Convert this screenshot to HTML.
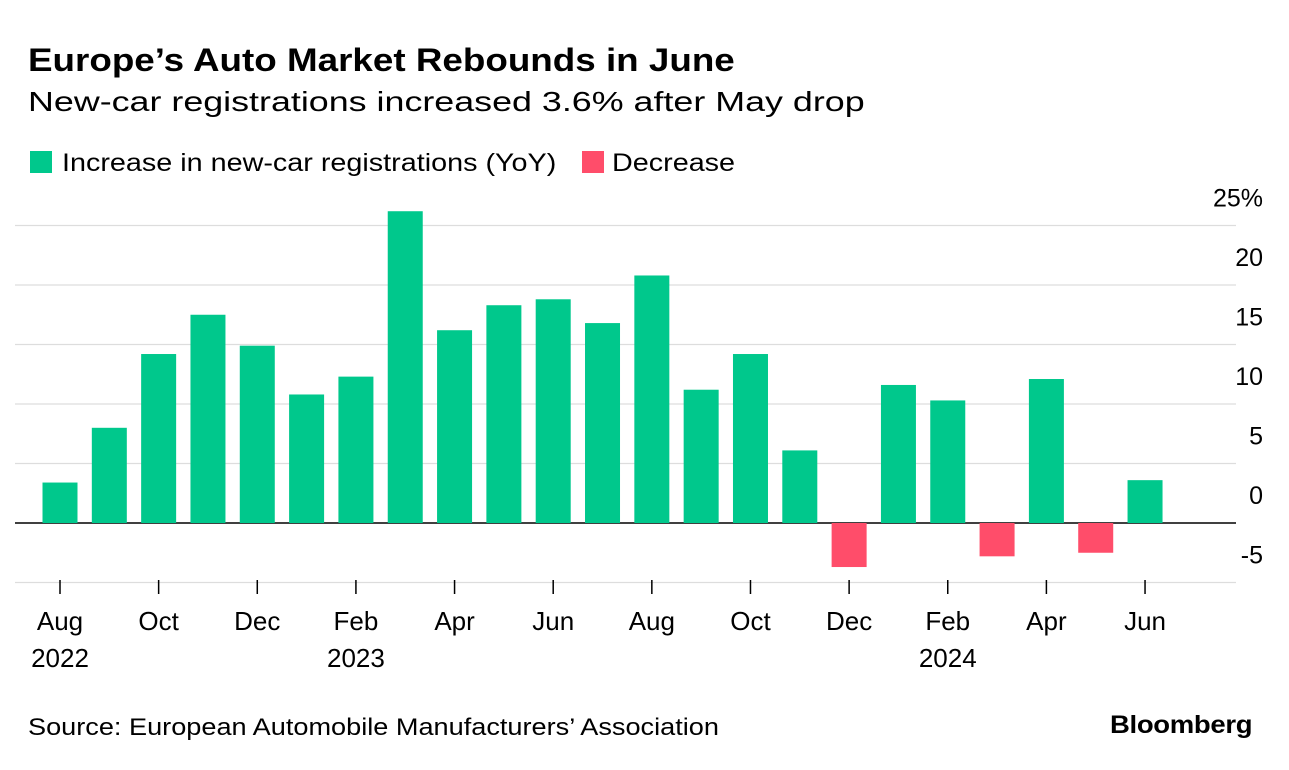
<!DOCTYPE html>
<html><head><meta charset="utf-8"><style>
body{margin:0;background:#fff;font-family:"Liberation Sans",sans-serif;color:#000}
.t{position:absolute;white-space:nowrap;transform-origin:0 0}
</style></head><body>
<div style="position:relative;width:1289px;height:770px;overflow:hidden">
<div class="t" style="left:28px;top:42px;font-size:32px;font-weight:bold;transform:scaleX(1.15)">Europe’s Auto Market Rebounds in June</div>
<div class="t" style="left:28px;top:86px;font-size:28px;transform:scaleX(1.28)">New-car registrations increased 3.6% after May drop</div>
<div class="t" style="left:30px;top:149px;font-size:25px"><span style="display:inline-block;width:22px;height:22px;background:#00c88c;vertical-align:-2px;margin-right:10px"></span><span style="display:inline-block;transform:scaleX(1.15);transform-origin:0 0">Increase in new-car registrations (YoY)</span></div>
<div class="t" style="left:582px;top:149px;font-size:25px"><span style="display:inline-block;width:22px;height:22px;background:#ff4d6a;vertical-align:-2px;margin-right:8px"></span><span style="display:inline-block;transform:scaleX(1.15);transform-origin:0 0">Decrease</span></div>
<svg id="chart" width="1289" height="770" style="position:absolute;left:0;top:0"></svg>
<div class="t" style="left:28px;top:714px;font-size:24px;transform:scaleX(1.13)">Source: European Automobile Manufacturers’ Association</div>
<div class="t" style="left:1110px;top:711px;font-size:25px;font-weight:bold;letter-spacing:-0.3px;transform:scaleX(1.1)">Bloomberg</div>
</div>
<script>
const values=[3.4,8.0,14.2,17.5,14.9,10.8,12.3,26.2,16.2,18.3,18.8,16.8,20.8,11.2,14.2,6.1,-3.7,11.6,10.3,-2.8,12.1,-2.5,3.6];
const yTicks=[25,20,15,10,5,0,-5];
const yTickLabels=["25%","20","15","10","5","0","-5"];
const xLabelIdx=[0,2,4,6,8,10,12,14,16,18,20,22];
const xLabels=["Aug","Oct","Dec","Feb","Apr","Jun","Aug","Oct","Dec","Feb","Apr","Jun"];
const yearIdx=[0,6,18];const yearLabels=["2022","2023","2024"];
const svg=document.getElementById('chart');const NS='http://www.w3.org/2000/svg';
const y=v=>523-v*11.9;const x=i=>60+i*49.32;
function mk(t,a){const e=document.createElementNS(NS,t);for(const k in a)e.setAttribute(k,a[k]);svg.appendChild(e);return e;}
yTicks.forEach((t,i)=>{
 const l=mk('line',{x1:15,x2:1236,y1:y(t),y2:y(t),stroke:t===0?'#000':'#ddd','stroke-width':t===0?1.5:1.2});
 
 
 const tx=mk('text',{x:1263,y:y(t)-19,'text-anchor':'end','font-size':25,'font-family':'Liberation Sans, sans-serif'});
 tx.textContent=yTickLabels[i];
 
 
});
values.forEach((v,i)=>{
 const r=mk('rect',{x:x(i)-17.5,width:35,y:v>=0?y(v):y(0),height:Math.abs(y(v)-y(0)),fill:v>=0?'#00c88c':'#ff4d6a'});
 
 
});
xLabelIdx.forEach((idx,k)=>{
 const tk=mk('line',{x1:x(idx),x2:x(idx),y1:580,y2:594,stroke:'#000','stroke-width':1.5});
 
 
 const t=mk('text',{x:x(idx),y:630,'text-anchor':'middle','font-size':26,'font-family':'Liberation Sans, sans-serif'});
 t.textContent=xLabels[k];
 
 
});
yearIdx.forEach((idx,k)=>{
 const t=mk('text',{x:x(idx),y:667,'text-anchor':'middle','font-size':26,'font-family':'Liberation Sans, sans-serif'});
 t.textContent=yearLabels[k];
 
 
});
</script>
</body></html>
